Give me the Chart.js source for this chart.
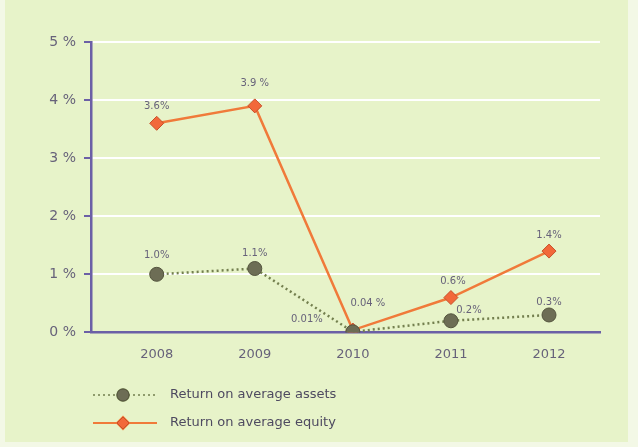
<!DOCTYPE html>
<html>
<head>
<meta charset="utf-8">
<script src="https://cdn.jsdelivr.net/npm/chart.js@4.4.1/dist/chart.umd.min.js"></script>
<style>
  html, body { margin: 0; padding: 0; background: #f3f8e6; }
  #wrap { width: 638px; height: 447px; }
</style>
</head>
<body>
<div id="wrap"><canvas id="roaChart" width="638" height="447"></canvas></div>
<script>
// Returns by year (%)
const years = [2008, 2009, 2010, 2011, 2012];
const assetsReturn = [1.0, 1.1, 0.01, 0.2, 0.3];
const equityReturn = [3.6, 3.9, 0.04, 0.6, 1.4];
const assetsLabels = ['1.0%', '1.1%', '0.01%', '0.2%', '0.3%'];
const equityLabels = ['3.6%', '3.9 %', '0.04 %', '0.6%', '1.4%'];
const yTicks = [0, 1, 2, 3, 4, 5];

// where each value label sits relative to its marker
const assetsLabelOffsets = [[0, -19], [0, -15], [-46, -12], [18, -10], [0, -13]];
const equityLabelOffsets = [[0, -17], [0, -22], [15, -27], [2, -16], [0, -16]];

const AXIS = '#6b5fa6';
const TEXT = '#67627a';
const ORANGE = '#f07a3a';
const OLIVE = '#6d6d55';

function toPoints(values) {
    return years.map((y, i) => ({ x: y, y: values[i] }));
}

// Panel background behind everything
const panelBackground = {
    id: 'panelBackground',
    beforeDraw(chart) {
        const ctx = chart.ctx;
        ctx.save();
        ctx.fillStyle = '#e7f3c9';
        ctx.fillRect(5, 0, 623, 442);
        ctx.restore();
    }
};

// Value labels next to each marker
const valueLabels = {
    id: 'valueLabels',
    afterDatasetsDraw(chart) {
        const ctx = chart.ctx;
        ctx.save();
        ctx.font = '10px "DejaVu Sans"';
        ctx.fillStyle = TEXT;
        ctx.textAlign = 'center';
        ctx.textBaseline = 'middle';
        chart.data.datasets.forEach((ds, di) => {
            const meta = chart.getDatasetMeta(di);
            meta.data.forEach((pt, i) => {
                const off = ds.labelOffsets[i];
                ctx.fillText(ds.valueLabels[i], pt.x + off[0], pt.y + off[1]);
            });
        });
        ctx.restore();
    }
};

// Legend: line sample with marker, then the series name
const lineLegend = {
    id: 'lineLegend',
    afterDraw(chart) {
        const ctx = chart.ctx;
        const rows = [395, 423];
        ctx.save();
        chart.data.datasets.forEach((ds, i) => {
            const y = rows[i];
            ctx.beginPath();
            ctx.strokeStyle = ds.borderColor;
            ctx.lineWidth = i === 0 ? 1.5 : 2;
            ctx.setLineDash(ds.borderDash || []);
            ctx.moveTo(93, y);
            ctx.lineTo(157, y);
            ctx.stroke();
            ctx.setLineDash([]);
            Chart.helpers.drawPoint(ctx, {
                pointStyle: ds.pointStyle,
                radius: 6,
                rotation: 0,
                borderWidth: 1
            }, 123, y);
            ctx.fillStyle = ds.pointBackgroundColor;
            ctx.strokeStyle = ds.pointBorderColor;
            ctx.lineWidth = 1;
            ctx.fill();
            ctx.stroke();
            ctx.fillStyle = '#4e4a60';
            ctx.font = '13px "DejaVu Sans"';
            ctx.textAlign = 'left';
            ctx.textBaseline = 'middle';
            ctx.fillText(ds.label, 170, y);
        });
        ctx.restore();
    }
};

new Chart(document.getElementById('roaChart'), {
    type: 'line',
    data: {
        datasets: [
            {
                label: 'Return on average assets',
                data: toPoints(assetsReturn),
                valueLabels: assetsLabels,
                labelOffsets: assetsLabelOffsets,
                borderColor: '#737f4e',
                borderWidth: 2.5,
                borderDash: [2, 3],
                pointStyle: 'circle',
                pointRadius: 7,
                pointBackgroundColor: OLIVE,
                pointBorderColor: '#55553f',
                pointBorderWidth: 1
            },
            {
                label: 'Return on average equity',
                data: toPoints(equityReturn),
                valueLabels: equityLabels,
                labelOffsets: equityLabelOffsets,
                borderColor: ORANGE,
                borderWidth: 2.5,
                pointStyle: 'rectRot',
                pointRadius: 7,
                pointBackgroundColor: '#f2683a',
                pointBorderColor: '#c8502a',
                pointBorderWidth: 1
            }
        ]
    },
    options: {
        responsive: false,
        animation: false,
        layout: { padding: { left: 0, top: 42, right: 38, bottom: 79 } },
        plugins: {
            legend: { display: false },
            tooltip: { enabled: false }
        },
        scales: {
            x: {
                type: 'linear',
                min: 2007.33,
                max: 2012.52,
                afterBuildTicks: scale => { scale.ticks = years.map(v => ({ value: v })); },
                grid: { display: false },
                border: { color: AXIS, width: 2.5 },
                ticks: {
                    color: TEXT,
                    padding: 6,
                    font: { family: 'DejaVu Sans', size: 13 },
                    callback: v => String(v)
                }
            },
            y: {
                min: 0,
                max: 5,
                afterBuildTicks: scale => { scale.ticks = yTicks.map(v => ({ value: v })); },
                afterFit: scale => { scale.width = 91; },
                grid: {
                    color: ctx => ctx.tick && ctx.tick.value === 0 ? 'rgba(0,0,0,0)' : '#ffffff',
                    lineWidth: 2,
                    tickColor: AXIS,
                    tickLength: 7
                },
                border: { color: AXIS, width: 2.5 },
                ticks: {
                    color: TEXT,
                    padding: 8,
                    font: { family: 'DejaVu Sans', size: 14 },
                    callback: v => v + ' %'
                }
            }
        }
    },
    plugins: [panelBackground, valueLabels, lineLegend]
});
</script>
</body>
</html>
